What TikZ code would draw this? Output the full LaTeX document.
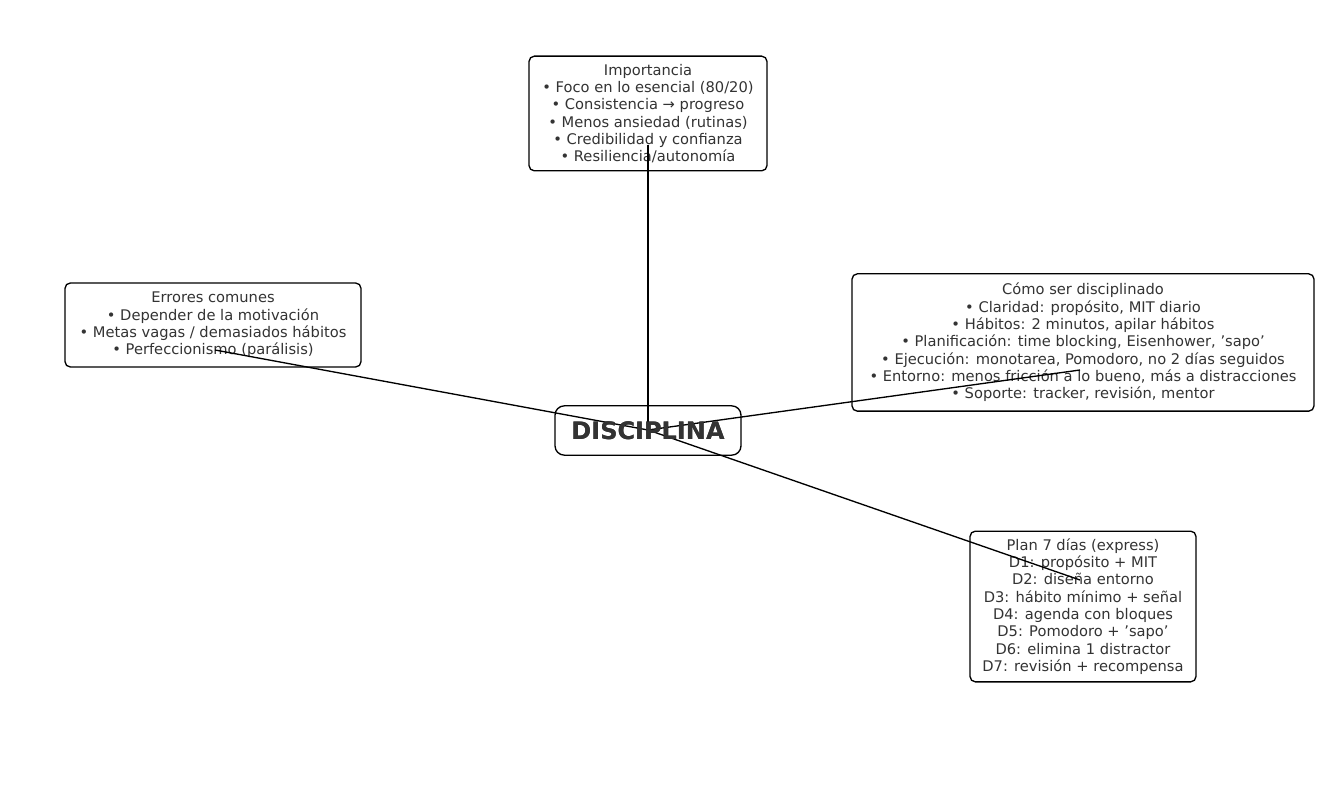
\documentclass[tikz,border=0pt]{standalone}
\usepackage{fontspec}
\setmainfont{DejaVu Sans}
\definecolor{txt}{HTML}{333333}
\begin{document}
\begin{tikzpicture}[x=0.75pt,y=-0.75pt,
  box/.style={draw=black,line width=1pt,rounded corners=4pt,fill=white,align=center,text=txt,font=\fontsize{11}{13}\selectfont,inner sep=0pt},
  link/.style={line width=1pt,black}]
\useasboundingbox (0,0) rectangle (1330,787);
\node[box,minimum width=178.5pt,minimum height=86pt] (imp) at (648,113.5) {Importancia\\• Foco en lo esencial (80/20)\\• Consistencia → progreso\\• Menos ansiedad (rutinas)\\• Credibilidad y confianza\\• Resiliencia/autonomía};
\node[box,minimum width=222pt,minimum height=63pt] (err) at (213,325) {Errores comunes\\• Depender de la motivación\\• Metas vagas / demasiados hábitos\\• Perfeccionismo (parálisis)};
\node[box,minimum width=346.5pt,minimum height=103pt] (como) at (1083,342.5) {Cómo ser disciplinado\\• Claridad: propósito, MIT diario\\• Hábitos: 2 minutos, apilar hábitos\\• Planificación: time blocking, Eisenhower, 'sapo'\\• Ejecución: monotarea, Pomodoro, no 2 días seguidos\\• Entorno: menos fricción a lo bueno, más a distracciones\\• Soporte: tracker, revisión, mentor};
\node[box,minimum width=169.5pt,minimum height=113pt] (plan) at (1083,606.5) {Plan 7 días (express)\\D1: propósito + MIT\\D2: diseña entorno\\D3: hábito mínimo + señal\\D4: agenda con bloques\\D5: Pomodoro + 'sapo'\\D6: elimina 1 distractor\\D7: revisión + recompensa};
\node[box,rounded corners=7pt,minimum width=139.5pt,minimum height=37pt,font=\fontsize{18}{20}\selectfont\bfseries] (c) at (648,430.5) {DISCIPLINA};
\coordinate (ci) at (648,430);
\coordinate (pimp) at (648,145);
\coordinate (perr) at (215,350);
\coordinate (pcomo) at (1080,370);
\coordinate (pplan) at (1080,580);
\draw[link] (ci) -- (pimp);
\draw[link] (ci) -- (perr);
\draw[link] (ci) -- (pcomo);
\draw[link] (ci) -- (pplan);
\node[text=txt,font=\fontsize{18}{20}\selectfont\bfseries,inner sep=0pt] at (c) {DISCIPLINA};
\end{tikzpicture}
\end{document}
